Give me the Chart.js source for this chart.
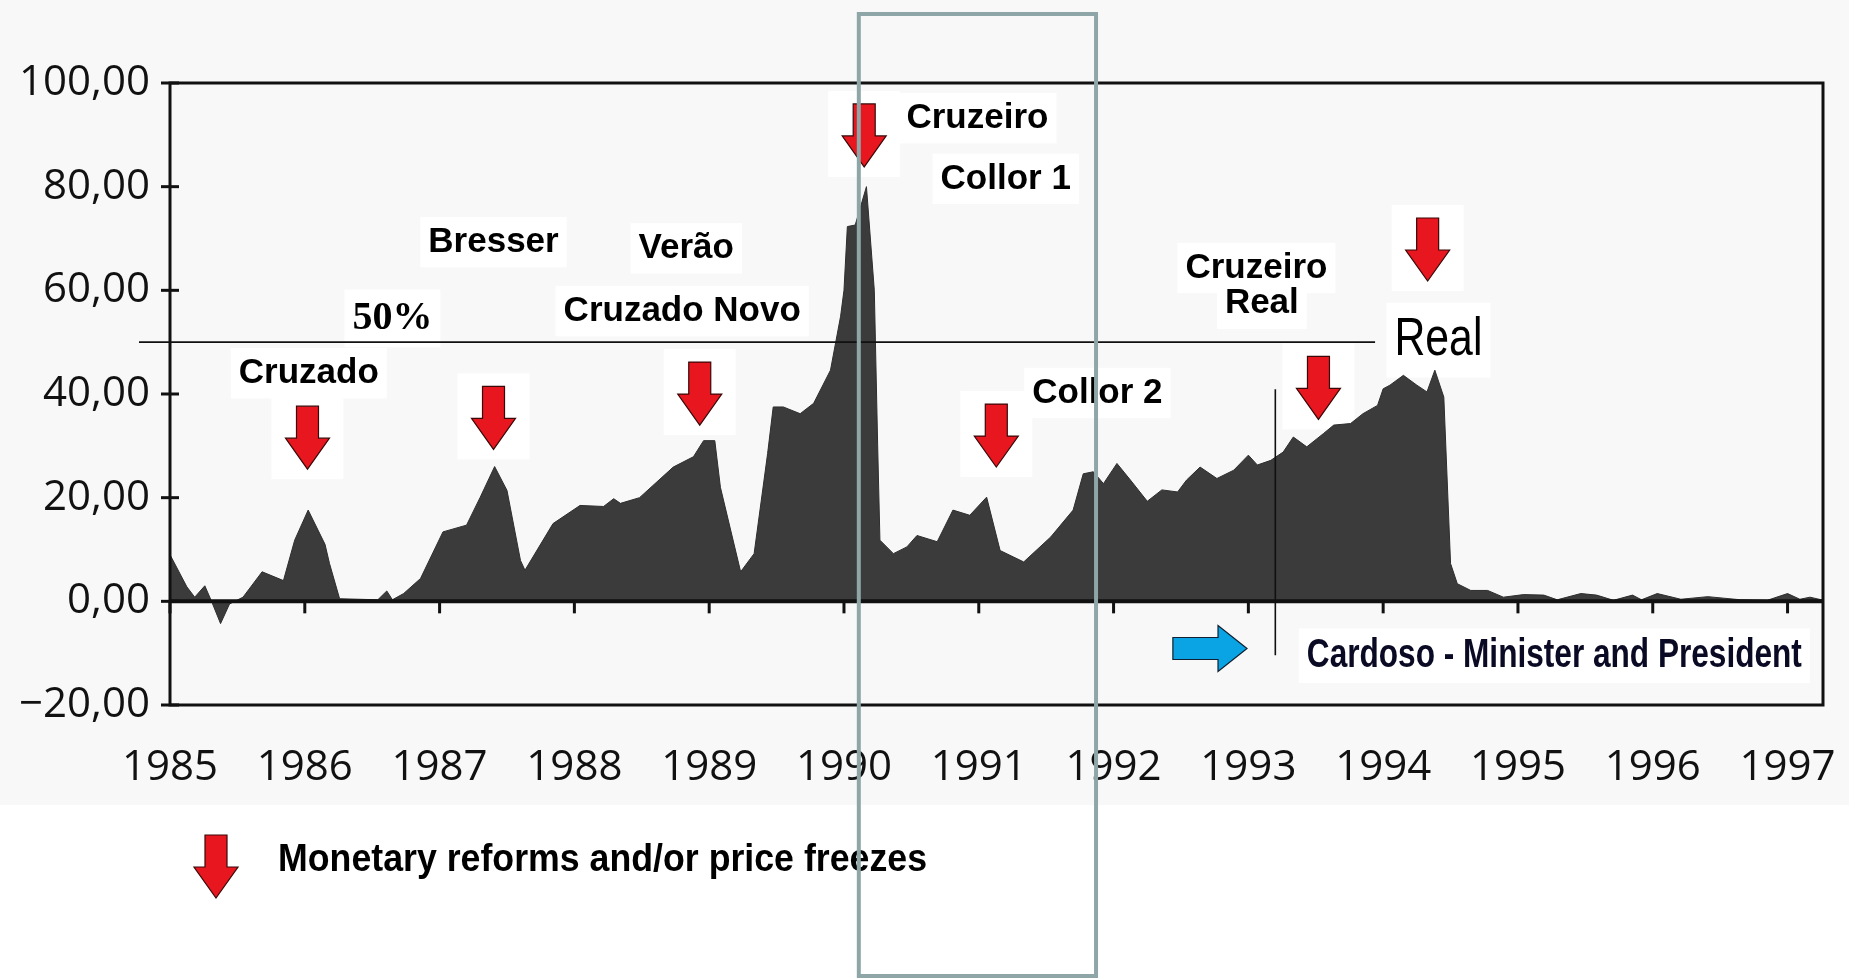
<!DOCTYPE html>
<html>
<head>
<meta charset="utf-8">
<title>Brazil monthly inflation 1985-1997</title>
<style>
	html, body { margin: 0; padding: 0; background: #fff; }
	canvas { display: block; }
</style>
</head>
<body>
<canvas id="myChart" width="1849" height="980"></canvas>
<script src="https://cdn.jsdelivr.net/npm/chart.js@4.4.1/dist/chart.umd.min.js"></script>
<script>
// months counted from January 1985 at each vertex
const months = [
	0, 1.5, 2.2, 3.1, 3.7, 4.5, 5.3, 6.5, 8.2, 10.1, 11.1, 12.3, 13.8, 14.2, 15.1,
	18.5, 19.3, 19.8, 20.8, 22.3, 24.3, 26.4, 27.6, 28.9, 30.0, 31.2, 31.6, 34.1,
	36.5, 38.6, 39.5, 40.1, 41.8, 44.8, 46.6, 47.5, 48.5, 49.0, 50.8, 52.0, 53.2,
	53.7, 54.6, 56.1, 57.3, 58.8, 59.7, 60.0, 60.3, 61.0, 62.0, 62.7, 63.0, 63.2,
	64.4, 65.6, 66.5, 68.3, 69.7, 71.2, 72.7, 73.9, 76.0, 78.4, 80.4, 81.3, 82.2,
	83.1, 84.3, 85.5, 87.0, 88.3, 89.7, 90.5, 91.7, 93.2, 94.7, 96.0, 96.8, 98.0,
	99.1, 100.0, 101.2, 102.7, 103.6, 105.1, 106.2, 107.5, 108.0, 108.6, 109.8,
	111.0, 111.9, 112.6, 113.4, 114.0, 114.6, 115.8, 117.3, 118.7, 120.5, 122.3,
	123.5, 125.6, 127.0, 128.5, 130.2, 131.0, 132.4, 134.5, 136.9, 139.8, 142.2,
	144.0, 145.1, 146.0, 147.2,
]
// monthly inflation, %
const inflation = [
	9, 2.8, 0.8, 3, 0, -4.3, -0.5, 0.8, 5.7, 4, 11.8, 17.6, 11, 7.3, 0.5,
	0.3, 2, 0.3, 1.5, 4.4, 13.4, 14.7, 20, 26, 21.4, 7.9, 6, 15,
	18.5, 18.3, 19.8, 18.9, 20, 25.9, 27.9, 31, 31, 22, 5.7, 9.2, 28.5,
	37.5, 37.5, 36.2, 38.2, 44.6, 55, 60, 72.3, 72.6, 80, 60, 30, 11.8,
	9.2, 10.5, 12.7, 11.5, 17.6, 16.6, 20.1, 9.8, 7.6, 12.4, 17.6, 24.6, 25,
	22.7, 26.6, 23.4, 19.3, 21.5, 21.1, 23.4, 25.9, 23.7, 25.3, 28.2, 26.3, 27.2,
	28.8, 31.7, 29.8, 32.4, 34, 34.3, 36.2, 37.8, 41, 41.7, 43.6,
	41.7, 40.4, 44.6, 39.4, 7.3, 3.4, 2.1, 2.1, 0.8, 1.3, 1.2,
	0.3, 1.5, 1.2, 0.2, 1.2, 0.3, 1.5, 0.4, 0.9, 0.3, 0.2,
	1.5, 0.4, 0.8, 0.2,
]
const yearTicks = [1985, 1986, 1987, 1988, 1989, 1990, 1991, 1992, 1993, 1994, 1995, 1996, 1997]
const valueTicks = [-20, 0, 20, 40, 60, 80, 100]
const threshold = 50
const legendText = 'Monetary reforms and/or price freezes'

// annotation placement, in data units
const BOLD = '700 35px "Liberation Sans", Arial, sans-serif'
const notes = [
	{ text: 'Cruzado', x: 1986.03, y: 44.0, font: BOLD, size: 35 },
	{ text: 'Bresser', x: 1987.40, y: 69.3, font: BOLD, size: 35 },
	{ text: 'Verão', x: 1988.83, y: 68.1, font: BOLD, size: 35 },
	{ text: 'Cruzado Novo', x: 1988.80, y: 56.0, font: BOLD, size: 35 },
	{ text: 'Cruzeiro', x: 1990.99, y: 93.2, font: BOLD, size: 35 },
	{ text: 'Collor 1', x: 1991.20, y: 81.5, font: BOLD, size: 35 },
	{ text: 'Collor 2', x: 1991.88, y: 40.2, font: BOLD, size: 35 },
	{ text: 'Cruzeiro', x: 1993.06, y: 64.3, font: BOLD, size: 35 },
	{ text: 'Real', x: 1993.10, y: 57.4, font: BOLD, size: 35 },
	{ text: 'Real', x: 1994.41, y: 50.4, font: '400 54px "Liberation Sans", Arial, sans-serif', size: 52, width: 88 },
	{ text: '50%', x: 1986.65, y: 54.6, font: '700 40px "Liberation Serif", "Times New Roman", serif', size: 40 },
	{ text: 'Cardoso - Minister and President', x: 1995.27, y: -10.5, font: '700 40px "Liberation Sans", Arial, sans-serif', size: 38, width: 495, color: '#0a0a24' },
]
const reformArrows = [
	{ x: 1986.02, y: 25.5 },
	{ x: 1987.40, y: 29.3 },
	{ x: 1988.93, y: 34.0 },
	{ x: 1990.15, y: 83.8 },
	{ x: 1991.13, y: 25.9 },
	{ x: 1993.52, y: 35.1 },
	{ x: 1994.33, y: 61.8 },
]

const points = months.map((m, i) => ({ x: 1985 + m / 12, y: inflation[i] }))

const downArrow = (ctx, cx, tipY) => {
	const w = 44, h = 63, sw = 11, hh = 31
	ctx.beginPath()
	ctx.moveTo(cx - sw, tipY - h)
	ctx.lineTo(cx + sw, tipY - h)
	ctx.lineTo(cx + sw, tipY - hh)
	ctx.lineTo(cx + w / 2, tipY - hh)
	ctx.lineTo(cx, tipY)
	ctx.lineTo(cx - w / 2, tipY - hh)
	ctx.lineTo(cx - sw, tipY - hh)
	ctx.closePath()
	ctx.fillStyle = '#e8171f'
	ctx.fill()
	ctx.lineWidth = 1.2
	ctx.strokeStyle = '#3a0808'
	ctx.stroke()
}

// draws text centred on (px, py), squeezed to a given width when asked
const drawText = (ctx, text, px, py, width) => {
	ctx.save()
	ctx.translate(px, py)
	if (width) {
		ctx.scale(width / ctx.measureText(text).width, 1)
	}
	ctx.fillText(text, 0, 0)
	ctx.restore()
}

const decor = {
	id: 'decor',
	beforeDraw(chart) {
		const { ctx } = chart
		ctx.save()
		ctx.fillStyle = '#f8f8f8'
		ctx.fillRect(0, 0, chart.width, 805)
		ctx.restore()
	},
	beforeDatasetsDraw(chart) {
		// white patches left behind the labels
		const { ctx, scales: { x, y } } = chart
		ctx.save()
		ctx.fillStyle = '#ffffff'
		notes.forEach((n) => {
			ctx.font = n.font
			const w = n.width || ctx.measureText(n.text).width
			ctx.fillRect(x.getPixelForValue(n.x) - w / 2 - 8, y.getPixelForValue(n.y) - n.size * 0.72, w + 16, n.size * 1.44)
		})
		reformArrows.forEach((a) => {
			ctx.fillRect(x.getPixelForValue(a.x) - 36, y.getPixelForValue(a.y) - 76, 72, 86)
		})
		ctx.restore()
	},
	afterDatasetsDraw(chart) {
		const { ctx, chartArea: a, scales: { x, y } } = chart
		const y0 = y.getPixelForValue(0)
		ctx.save()
		ctx.strokeStyle = '#111'
		ctx.lineWidth = 3
		ctx.strokeRect(a.left, a.top, a.right - a.left, a.bottom - a.top)
		ctx.lineWidth = 4
		ctx.beginPath()
		ctx.moveTo(a.left, y0)
		ctx.lineTo(a.right, y0)
		ctx.stroke()
		ctx.lineWidth = 3
		yearTicks.forEach((v) => {
			const px = x.getPixelForValue(v)
			ctx.beginPath()
			ctx.moveTo(px, y0)
			ctx.lineTo(px, y0 + 12)
			ctx.stroke()
		})
		valueTicks.forEach((v) => {
			const py = y.getPixelForValue(v)
			ctx.beginPath()
			ctx.moveTo(a.left - 9, py)
			ctx.lineTo(a.left + 9, py)
			ctx.stroke()
		})
		// 50% line
		ctx.lineWidth = 1.6
		ctx.beginPath()
		ctx.moveTo(x.getPixelForValue(1984.77), y.getPixelForValue(threshold))
		ctx.lineTo(x.getPixelForValue(1993.94), y.getPixelForValue(threshold))
		ctx.stroke()
		// Cardoso marker line
		ctx.beginPath()
		ctx.moveTo(x.getPixelForValue(1993.2), y.getPixelForValue(40.9))
		ctx.lineTo(x.getPixelForValue(1993.2), y.getPixelForValue(-10.4))
		ctx.stroke()
		// blue arrow
		const bx0 = x.getPixelForValue(1992.44)
		const bx1 = x.getPixelForValue(1992.99)
		const by = y.getPixelForValue(-9.1)
		const headX = bx1 - 29
		ctx.beginPath()
		ctx.moveTo(bx0, by - 11)
		ctx.lineTo(headX, by - 11)
		ctx.lineTo(headX, by - 23)
		ctx.lineTo(bx1, by)
		ctx.lineTo(headX, by + 23)
		ctx.lineTo(headX, by + 11)
		ctx.lineTo(bx0, by + 11)
		ctx.closePath()
		ctx.fillStyle = '#0aa3e3'
		ctx.fill()
		ctx.lineWidth = 1.2
		ctx.strokeStyle = '#102030'
		ctx.stroke()
		reformArrows.forEach((r) => downArrow(ctx, x.getPixelForValue(r.x), y.getPixelForValue(r.y)))
		ctx.textAlign = 'center'
		ctx.textBaseline = 'middle'
		notes.forEach((n) => {
			ctx.font = n.font
			ctx.fillStyle = n.color || '#000'
			drawText(ctx, n.text, x.getPixelForValue(n.x), y.getPixelForValue(n.y), n.width)
		})
		ctx.restore()
	},
	afterDraw(chart) {
		const { ctx, scales: { x } } = chart
		ctx.save()
		// legend
		downArrow(ctx, 216, 898)
		ctx.font = '700 38px "Liberation Sans", Arial, sans-serif'
		ctx.fillStyle = '#000'
		ctx.textAlign = 'center'
		ctx.textBaseline = 'middle'
		drawText(ctx, legendText, 278 + 649 / 2, 861, 649)
		// highlight box over 1990-1991
		ctx.strokeStyle = '#8fa6a8'
		ctx.lineWidth = 4
		const hx0 = x.getPixelForValue(1990.11)
		const hx1 = x.getPixelForValue(1991.87)
		ctx.strokeRect(hx0, 14, hx1 - hx0, 962)
		ctx.restore()
	},
}

const formatValue = (v) => (v < 0 ? '−' : '') + Math.abs(v).toFixed(2).replace('.', ',')

new Chart(document.getElementById('myChart'), {
	type: 'line',
	data: {
		datasets: [
			{
				data: points,
				fill: 'origin',
				backgroundColor: '#3b3b3b',
				borderColor: '#2e2e2e',
				borderWidth: 1,
				pointRadius: 0,
				tension: 0,
			},
		],
	},
	options: {
		responsive: false,
		animation: false,
		devicePixelRatio: 1,
		layout: { padding: { top: 83, right: 26, left: 0, bottom: 0 } },
		plugins: {
			legend: { display: false },
			tooltip: { enabled: false },
		},
		scales: {
			x: {
				type: 'linear',
				min: 1985,
				max: 1997.263,
				grid: { display: false, drawTicks: false },
				border: { display: false },
				afterBuildTicks: (scale) => {
					scale.ticks = yearTicks.map((v) => ({ value: v }))
				},
				afterFit: (scale) => {
					scale.height = 275
					scale.paddingLeft = 0
					scale.paddingRight = 0
				},
				ticks: {
					autoSkip: false,
					maxRotation: 0,
					padding: 38,
					color: '#111',
					font: { family: '"Open Sans", sans-serif', size: 42 },
					callback: (v) => String(v),
				},
			},
			y: {
				min: -20,
				max: 100,
				grid: { display: false, drawTicks: false },
				border: { display: false },
				afterBuildTicks: (scale) => {
					scale.ticks = valueTicks.map((v) => ({ value: v }))
				},
				afterFit: (scale) => {
					scale.width = 170
				},
				ticks: {
					padding: 20,
					color: '#111',
					font: { family: '"Open Sans", sans-serif', size: 42 },
					callback: (v) => formatValue(v),
				},
			},
		},
	},
	plugins: [decor],
})
</script>
</body>
</html>
